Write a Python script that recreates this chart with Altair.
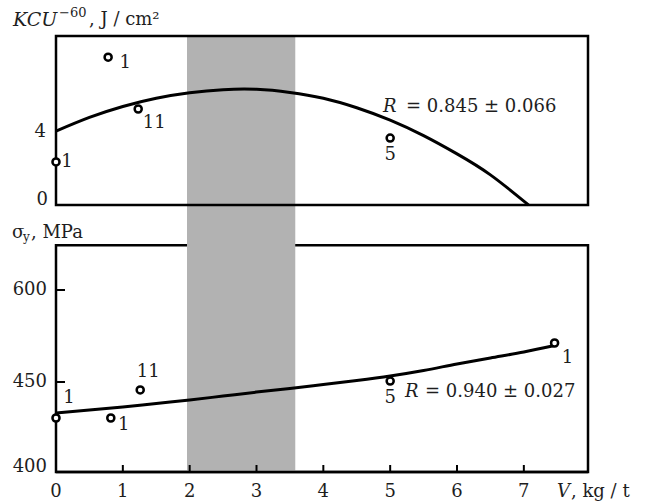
import altair as alt
import pandas as pd

# ---------------- data ----------------
x_ticks = [0, 1, 2, 3, 4, 5, 6, 7]
x_lim = [0, 7.96]

# top panel: KCU^-60, J/cm^2
kcu_x = [0.0, 0.78, 1.23, 5.0]
kcu_y = [2.36, 8.1, 5.26, 3.67]
kcu_lbl = ["1", "1", "11", "5"]
kcu_fit_x = [0, 0.5, 1, 1.5, 2, 2.5, 3, 3.5, 4, 4.5, 5, 5.5, 6, 6.5, 7.07]
kcu_fit_y = [4.05, 4.8, 5.4, 5.85, 6.15, 6.32, 6.34, 6.17, 5.85, 5.33, 4.65, 3.8, 2.8, 1.65, 0]
kcu_ticks = [0, 4]
kcu_lim = [0, 9.26]

# bottom panel: sigma_y, MPa
sy_x = [0.0, 0.82, 1.26, 5.0, 7.46]
sy_y = [430, 430, 445.6, 451.6, 513.6]
sy_lbl = ["1", "1", "11", "5", "1"]
sy_fit_x = [0, 0.5, 1, 1.5, 2, 2.5, 3, 3.5, 4, 4.5, 5, 5.5, 6, 6.5, 7, 7.46]
sy_fit_y = [432.8, 434.4, 436.1, 438.1, 440, 442.2, 444.4, 446.4, 448.6, 452.4,
            459.8, 468.8, 479.4, 489.2, 499, 509.5]
sy_ticks = [400, 450, 600]
sy_lim = [400, 673]

# shaded (micrograph) band
band_x = [1.96, 3.58]

# ---------------- styling / layout ----------------
W, H = 532, 436
FONT = "DejaVu Serif"
INK = "#1e1e1e"
kcu_dx = [11, 17, 16, 0]
kcu_dy = [0, 6, 14, 17]
sy_dx = [13, 13, 8, 0, 13]
sy_dy = [-20, 7, -18, 17, 15]

xs = alt.Scale(domain=x_lim, nice=False, zero=False)
top_s = alt.Scale(domain=[-14.63, 9.26], nice=False, zero=False)
bot_s = alt.Scale(domain=[400, 450, 600, 1014], range=[436, 346, 254, 0],
                  nice=False, zero=False)


def X(f):
    return alt.X(f, type="quantitative", scale=xs, axis=None)


def YT(f):
    return alt.Y(f, type="quantitative", scale=top_s, axis=None)


def YB(f):
    return alt.Y(f, type="quantitative", scale=bot_s, axis=None)


def txt(text, x, y, size=18, italic=False, align="left"):
    return alt.Chart(pd.DataFrame({"t": [text]})).mark_text(
        align=align, baseline="middle", font=FONT, fontSize=size,
        fontStyle="italic" if italic else "normal", color=INK
    ).encode(x=alt.value(x), y=alt.value(y), text="t:N")


layers = []

# bottom panel frame (its top edge is hidden by the band)
layers.append(alt.Chart(pd.DataFrame({"x0": [x_lim[0]], "x1": [x_lim[1]],
                                      "y0": [sy_lim[0]], "y1": [sy_lim[1]]}))
              .mark_rect(fillOpacity=0, stroke="black", strokeWidth=2.5)
              .encode(x=X("x0"), x2="x1", y=YB("y0"), y2="y1"))

# band
layers.append(alt.Chart(pd.DataFrame({"x0": [band_x[0]], "x1": [band_x[1]],
                                      "y0": [9.26], "y1": [-14.63]}))
              .mark_rect(color="#b2b2b2")
              .encode(x=X("x0"), x2="x1", y=YT("y0"), y2="y1"))

# top panel frame
layers.append(alt.Chart(pd.DataFrame({"x0": [x_lim[0]], "x1": [x_lim[1]],
                                      "y0": [kcu_lim[0]], "y1": [kcu_lim[1]]}))
              .mark_rect(fillOpacity=0, stroke="black", strokeWidth=2.5)
              .encode(x=X("x0"), x2="x1", y=YT("y0"), y2="y1"))

# bottom edge of lower panel again (over band)
layers.append(alt.Chart(pd.DataFrame({"x0": [x_lim[0]], "x1": [x_lim[1]], "y0": [sy_lim[0]]}))
              .mark_rule(color="black", strokeWidth=2.5)
              .encode(x=X("x0"), x2="x1", y=YB("y0")))

# x ticks (inward)
layers.append(alt.Chart(pd.DataFrame({"x": x_ticks[1:], "y": [sy_lim[0]] * (len(x_ticks) - 1)}))
              .mark_rule(color="black", strokeWidth=2)
              .encode(x=X("x"), y=YB("y"), y2=alt.value(H - 7)))

# left ticks of lower panel (inward)
layers.append(alt.Chart(pd.DataFrame({"y": sy_ticks[1:]}))
              .mark_rule(color="black", strokeWidth=2)
              .encode(y=YB("y"), x=alt.value(0), x2=alt.value(9)))

# fitted curves
layers.append(alt.Chart(pd.DataFrame({"x": kcu_fit_x, "y": kcu_fit_y}))
              .mark_line(color="black", strokeWidth=3, interpolate="natural")
              .encode(x=X("x"), y=YT("y")))
layers.append(alt.Chart(pd.DataFrame({"x": sy_fit_x, "y": sy_fit_y}))
              .mark_line(color="black", strokeWidth=3, interpolate="monotone")
              .encode(x=X("x"), y=YB("y")))

# points
layers.append(alt.Chart(pd.DataFrame({"x": kcu_x, "y": kcu_y}))
              .mark_point(shape="circle", filled=False, fill="white", fillOpacity=1,
                          size=50, stroke="black", strokeWidth=2.5, opacity=1)
              .encode(x=X("x"), y=YT("y")))
layers.append(alt.Chart(pd.DataFrame({"x": sy_x, "y": sy_y}))
              .mark_point(shape="circle", filled=False, fill="white", fillOpacity=1,
                          size=50, stroke="black", strokeWidth=2.5, opacity=1)
              .encode(x=X("x"), y=YB("y")))

# point labels
for i in range(len(kcu_x)):
    layers.append(alt.Chart(pd.DataFrame({"x": [kcu_x[i]], "y": [kcu_y[i]], "t": [kcu_lbl[i]]}))
                  .mark_text(align="center", baseline="middle", font=FONT, fontSize=18,
                             color=INK, dx=kcu_dx[i], dy=kcu_dy[i])
                  .encode(x=X("x"), y=YT("y"), text="t:N"))
for i in range(len(sy_x)):
    layers.append(alt.Chart(pd.DataFrame({"x": [sy_x[i]], "y": [sy_y[i]], "t": [sy_lbl[i]]}))
                  .mark_text(align="center", baseline="middle", font=FONT, fontSize=18,
                             color=INK, dx=sy_dx[i], dy=sy_dy[i])
                  .encode(x=X("x"), y=YB("y"), text="t:N"))

# y tick labels
layers.append(alt.Chart(pd.DataFrame({"v": kcu_ticks[1:]}))
              .mark_text(align="right", baseline="middle", font=FONT, fontSize=18, color=INK)
              .encode(x=alt.value(-10), y=YT("v"), text="v:Q"))
layers.append(alt.Chart(pd.DataFrame({"v": kcu_ticks[:1]}))
              .mark_text(align="right", baseline="alphabetic", font=FONT, fontSize=18, color=INK)
              .encode(x=alt.value(-8), y=YT("v"), text="v:Q"))
layers.append(alt.Chart(pd.DataFrame({"v": sy_ticks[1:]}))
              .mark_text(align="right", baseline="middle", font=FONT, fontSize=18, color=INK)
              .encode(x=alt.value(-9), y=YB("v"), text="v:Q"))
layers.append(alt.Chart(pd.DataFrame({"v": sy_ticks[:1]}))
              .mark_text(align="right", baseline="alphabetic", font=FONT, fontSize=18, color=INK)
              .encode(x=alt.value(-9), y=YB("v"), text="v:Q"))

# x tick labels
layers.append(alt.Chart(pd.DataFrame({"v": x_ticks}))
              .mark_text(align="center", baseline="middle", font=FONT, fontSize=18, color=INK)
              .encode(x=X("v"), y=alt.value(H + 20), text="v:Q"))

# axis titles and annotations
layers += [
    txt("KCU", -43, -16, size=19, italic=True),
    txt("\u221260", 3, -23, size=13),
    txt(", J / cm\u00b2", 33, -16),
    txt("\u03c3", -44, 197),
    txt("y", -33, 201, size=12),
    txt(", MPa", -25, 197),
    txt("V", 501, H + 20, italic=True),
    txt(", kg / t", 515, H + 20),
    txt("R", 327, 71, italic=True),
    txt("= 0.845 \u00b1 0.066", 350, 71),
    txt("R", 349, 356, italic=True),
    txt("= 0.940 \u00b1 0.027", 369, 356),
]

chart = (alt.layer(*layers)
         .resolve_scale(y="independent")
         .properties(width=W, height=H,
                     autosize=alt.AutoSizeParams(type="none"),
                     padding={"left": 56, "top": 36, "right": 59, "bottom": 30},
                     background="white")
         .configure_view(strokeOpacity=0))

chart.save("out.html", embed_options={"renderer": "svg", "actions": False})
